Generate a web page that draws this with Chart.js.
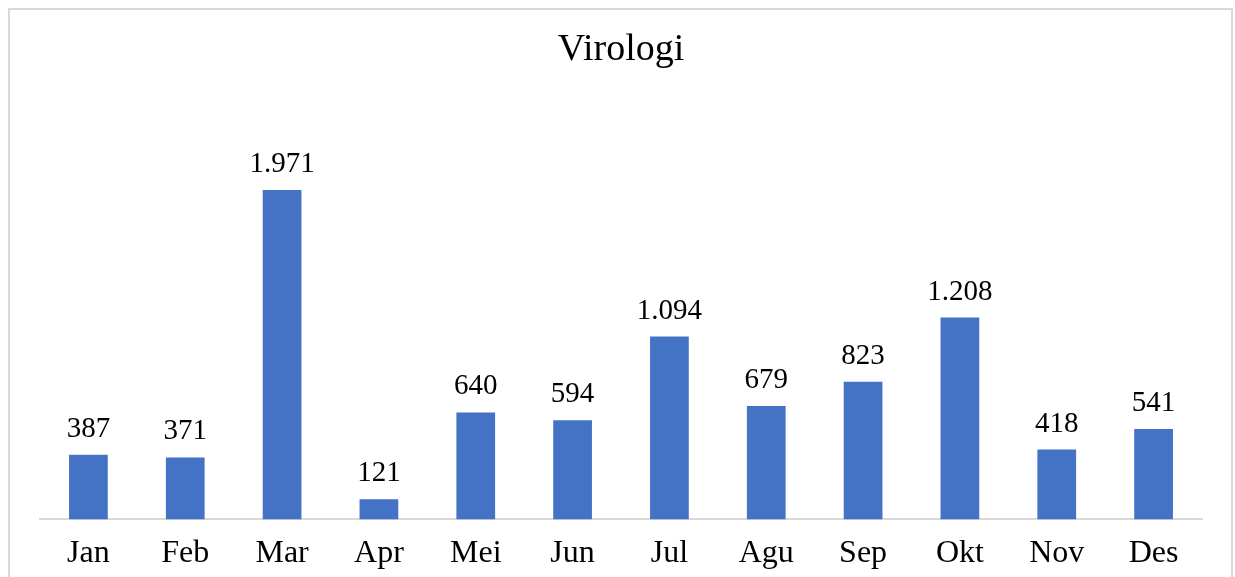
<!DOCTYPE html>
<html>
<head>
<meta charset="utf-8">
<script src="https://cdn.jsdelivr.net/npm/chart.js@4"></script>
<style>
  html, body { margin: 0; padding: 0; background: #fff; overflow: hidden; }
  #wrap { position: relative; width: 1235px; height: 577px; }
  #frame { position: absolute; left: 8px; top: 8px; width: 1221px; height: 600px;
           border: 2px solid #d9d9d9; pointer-events: none; }
</style>
</head>
<body>
<div id="wrap">
  <canvas id="virologiChart" width="1235" height="577"></canvas>
  <div id="frame"></div>
</div>
<script>
// data bulanan
const months = ['Jan', 'Feb', 'Mar', 'Apr', 'Mei', 'Jun', 'Jul', 'Agu', 'Sep', 'Okt', 'Nov', 'Des'];
const counts = [387, 371, 1971, 121, 640, 594, 1094, 679, 823, 1208, 418, 541];

const serif = '"Liberation Serif", "Times New Roman", serif';

// format angka gaya Indonesia: 1971 -> 1.971
function fmt(v) {
    return String(v).replace(/\B(?=(\d{3})+(?!\d))/g, '.');
}

// label nilai di atas batang
const valueLabels = {
    id: 'valueLabels',
    afterDatasetsDraw(chart) {
        const c = chart.ctx;
        const meta = chart.getDatasetMeta(0);
        c.save();
        c.font = '29px ' + serif;
        c.fillStyle = '#000';
        c.textAlign = 'center';
        c.textBaseline = 'alphabetic';
        meta.data.forEach((bar, i) => {
            c.fillText(fmt(counts[i]), bar.x, bar.y - 18);
        });
        c.restore();
    }
};

const ctx = document.getElementById('virologiChart').getContext('2d');
const chart = new Chart(ctx, {
    type: 'bar',
    data: {
        labels: months,
        datasets: [{
            label: 'Virologi',
            data: counts,
            backgroundColor: '#4472C4',
            borderWidth: 0,
            barPercentage: 0.4,
            categoryPercentage: 1.0
        }]
    },
    options: {
        responsive: false,
        animation: false,
        layout: { padding: { left: 40, right: 33, top: 0, bottom: -10 } },
        plugins: {
            legend: { display: false },
            tooltip: { enabled: false },
            title: {
                display: true,
                text: 'Virologi',
                color: '#000',
                font: { family: serif, size: 38, weight: 'normal' },
                padding: { top: 27, bottom: 29 }
            }
        },
        scales: {
            x: {
                grid: { display: false, drawTicks: false },
                border: { display: true, color: '#d9d9d9', width: 2 },
                ticks: {
                    color: '#000',
                    padding: 25,
                    font: { family: serif, size: 32, lineHeight: 0.55 }
                }
            },
            y: {
                display: false,
                min: 0,
                max: 2500
            }
        }
    },
    plugins: [valueLabels]
});
</script>
</body>
</html>
